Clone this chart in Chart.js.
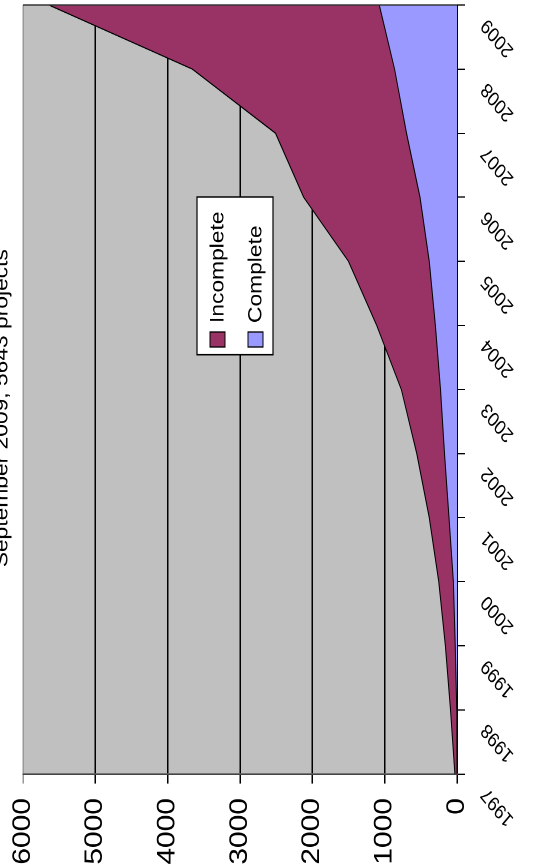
<!DOCTYPE html>
<html>
<head>
<meta charset="utf-8">
<title>Projects per year</title>
<script src="https://cdn.jsdelivr.net/npm/chart.js@4/dist/chart.umd.min.js"></script>
<style>
html, body { margin:0; padding:0; background:#fff; overflow:hidden; }
body { width:533px; height:866px; position:relative; }
/* the chart is drawn upright, then turned on its side like the scan */
#quadro {
    position:absolute; left:0; top:0;
    width:722px; height:533px;
    transform-origin:0 0;
    transform:translate(0px, 866px) rotate(-90deg) scale(1.2, 1);
}
</style>
</head>
<body>
<div id="quadro"><canvas id="grafico"></canvas></div>
<script>
"use strict";

/* =========================
   DADOS
========================= */

const anos = ["1997","1998","1999","2000","2001","2002","2003","2004","2005","2006","2007","2008","2009"];

const completos   = [0, 3, 25, 50, 111, 172, 228, 299, 383, 511, 698, 863, 1075];
const incompletos = [30, 87, 135, 202, 272, 385, 542, 811, 1117, 1609, 1812, 2797, 4568];

const marcasValor = [0, 1000, 2000, 3000, 4000, 5000, 6000];

const titulo = "September 2009, 5643 projects";

const FONTE = "'Liberation Sans', Arial, sans-serif";

/* =========================
   FUNDO, BORDA, LEGENDA, TITULO
========================= */

const extras = {

    id: "extras",

    beforeDraw(chart){

        const ctx = chart.ctx;
        const a = chart.chartArea;

        ctx.save();
        ctx.fillStyle = "#c0c0c0";
        ctx.fillRect(a.left, a.top, a.right - a.left, a.bottom - a.top);
        ctx.restore();

    },

    afterDraw(chart){

        const ctx = chart.ctx;
        const a = chart.chartArea;

        ctx.save();

        // borda direita da area do grafico
        ctx.strokeStyle = "#333";
        ctx.lineWidth = 1.2;
        ctx.beginPath();
        ctx.moveTo(a.right, a.top);
        ctx.lineTo(a.right, a.bottom);
        ctx.stroke();

        // legenda dentro da area
        const bx = 426, by = 197, bw = 131.5, bh = 76;

        ctx.fillStyle = "#fff";
        ctx.fillRect(bx, by, bw, bh);
        ctx.strokeStyle = "#000";
        ctx.lineWidth = 1.2;
        ctx.strokeRect(bx, by, bw, bh);

        const itens = chart.data.datasets.slice().reverse();

        ctx.font = "19px " + FONTE;
        ctx.textBaseline = "middle";
        ctx.textAlign = "left";

        itens.forEach(function(ds, i){

            const cy = by + 20.5 + i * 38;

            ctx.fillStyle = ds.backgroundColor;
            ctx.fillRect(bx + 6.5, cy - 7.5, 12.5, 15);
            ctx.strokeStyle = "#000";
            ctx.lineWidth = 1;
            ctx.strokeRect(bx + 6.5, cy - 7.5, 12.5, 15);

            ctx.fillStyle = "#000";
            ctx.fillText(ds.label, bx + 26.5, cy + 1);

        });

        // titulo (cortado no topo, como no original)
        ctx.font = "19px " + FONTE;
        ctx.textAlign = "center";
        ctx.textBaseline = "alphabetic";
        ctx.fillStyle = "#000";
        ctx.fillText(titulo, 381.5, 7.5);

        ctx.restore();

    }

};

/* =========================
   GRAFICO
========================= */

new Chart(document.getElementById("grafico"), {

    type: "line",

    data: {

        labels: anos,

        datasets: [
            {
                label: "Complete",
                data: completos,
                backgroundColor: "#9999ff",
                borderColor: "#000",
                borderWidth: 1,
                fill: "origin",
                pointRadius: 0,
                tension: 0
            },
            {
                label: "Incomplete",
                data: incompletos,
                backgroundColor: "#993366",
                borderColor: "#000",
                borderWidth: 1,
                fill: "-1",
                pointRadius: 0,
                tension: 0
            }
        ]

    },

    options: {

        responsive: true,
        maintainAspectRatio: false,
        animation: false,
        devicePixelRatio: 2,

        layout: { padding: { top: 23, right: 4.5 } },

        plugins: {
            legend: { display: false },
            title: { display: false },
            tooltip: { enabled: false }
        },

        scales: {

            x: {
                offset: false,
                border: { color: "#000", width: 1.5 },
                grid: { drawOnChartArea: false, color: "#000", tickLength: 8 },
                ticks: {
                    color: "#000",
                    font: { family: FONTE, size: 17 },
                    minRotation: 45,
                    maxRotation: 45,
                    autoSkip: false,
                    padding: 12,
                    labelOffset: -14
                },
                afterFit(s){
                    s.height = 76;
                    s.paddingLeft = 0;
                    s.paddingRight = 0;
                }
            },

            y: {
                stacked: true,
                min: 0,
                max: 6000,
                border: { color: "#444", width: 1.2 },
                grid: {
                    color: function(c){ return c.tick && c.tick.value === 6000 ? "#999" : "#000"; },
                    lineWidth: 1.5,
                    tickLength: 8
                },
                ticks: {
                    color: "#000",
                    font: { family: FONTE, size: 25 },
                    padding: 12,
                    callback: function(v){ return String(v); }
                },
                afterBuildTicks(s){ s.ticks = marcasValor.map(function(v){ return { value: v }; }); },
                afterFit(s){
                    s.width = 76.7;
                    s.paddingTop = 0;
                    s.paddingBottom = 0;
                }
            }

        }

    },

    plugins: [extras]

});
</script>
</body>
</html>
